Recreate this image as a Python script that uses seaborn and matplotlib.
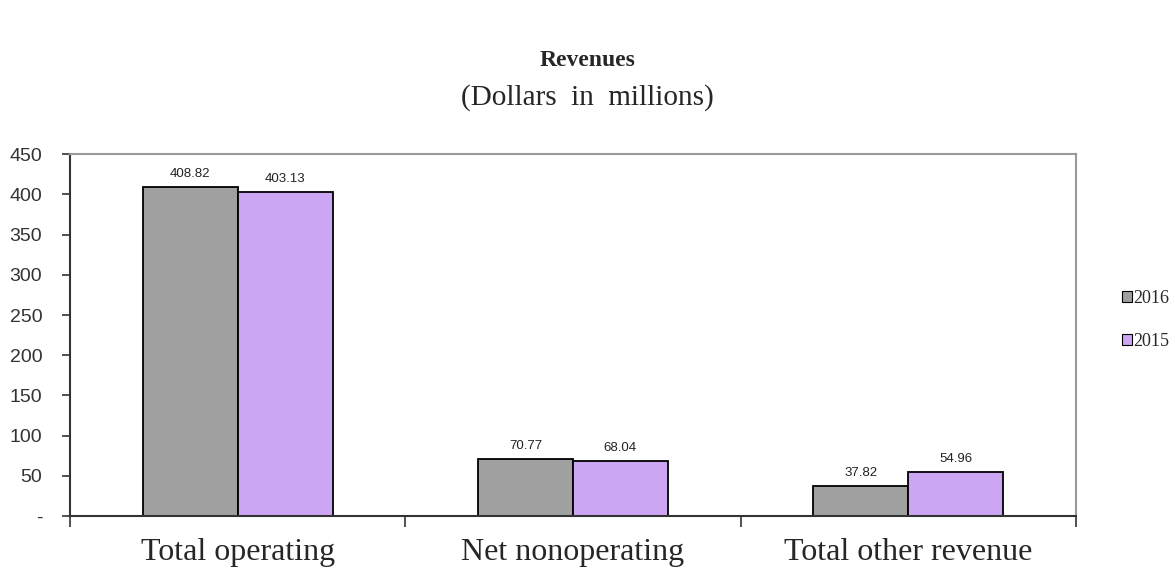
import numpy as np
import pandas as pd
import seaborn as sns
import matplotlib.pyplot as plt
from matplotlib.ticker import FuncFormatter, FixedLocator

categories = ["Total operating", "Net nonoperating", "Total other revenue"]
years = ["2016", "2015"]
values_2016 = [408.82, 70.77, 37.82]
values_2015 = [403.13, 68.04, 54.96]

df = pd.DataFrame({
    "category": categories * 2,
    "year": [years[0]] * 3 + [years[1]] * 3,
    "value": values_2016 + values_2015,
})

serif = ["Liberation Serif", "DejaVu Serif"]

sns.set_style("white")
plt.rcParams['font.family'] = ['Liberation Sans', 'DejaVu Sans']

fig = plt.figure(figsize=(11.75, 5.68), dpi=100)
ax = fig.add_axes([0.0596, 0.0915, 0.856, 0.637])

sns.barplot(data=df, x="category", y="value", hue="year", hue_order=years,
            palette=["#a0a0a0", "#cc99ff"], edgecolor="black", linewidth=1.3,
            width=0.566, ax=ax, legend=True)

for cont in ax.containers:
    ax.bar_label(cont, fmt="%.2f", padding=5, fontsize=9.5, color="#222222")

ax.set_xlim(-0.5, 2.5)
ax.set_ylim(0, 450)
ax.set_yticks(np.arange(0, 451, 50))
ax.yaxis.set_major_formatter(FuncFormatter(lambda v, p: "-" if v == 0 else f"{v:.0f}"))
ax.tick_params(axis="y", which="major", direction="out", length=6, width=1.2,
               labelsize=14, labelcolor="#333333", color="#333333", left=True, pad=14)

ax.tick_params(axis="x", which="major", length=0, pad=16)
for lab in ax.get_xticklabels():
    lab.set_fontfamily(serif)
    lab.set_fontsize(23)
ax.xaxis.set_minor_locator(FixedLocator([-0.5, 0.5, 1.5, 2.5]))
ax.tick_params(axis="x", which="minor", direction="out", length=8, width=1.2,
               bottom=True, color="#333333")

ax.set_xlabel("")
ax.set_ylabel("")
for s in ["top", "right"]:
    ax.spines[s].set_color("#999999")
    ax.spines[s].set_linewidth(1.5)
for s in ["left", "bottom"]:
    ax.spines[s].set_color("#333333")
    ax.spines[s].set_linewidth(1.5)

leg = ax.legend(loc="center left", bbox_to_anchor=(0.941, 0.437),
                bbox_transform=fig.transFigure, frameon=False,
                handlelength=0.55, handleheight=0.55, handletextpad=0.1,
                labelspacing=1.45, prop={"family": serif, "size": 13})
for h in leg.legend_handles:
    h.set_edgecolor("black")
    h.set_linewidth(0.8)

fig.text(0.5, 0.893, "Revenues", ha="center", va="center", fontsize=17,
         fontweight="bold", family=serif)
fig.text(0.5, 0.828, "(Dollars  in  millions)", ha="center", va="center",
         fontsize=21, family=serif)

fig.savefig("out.png", dpi=100)
